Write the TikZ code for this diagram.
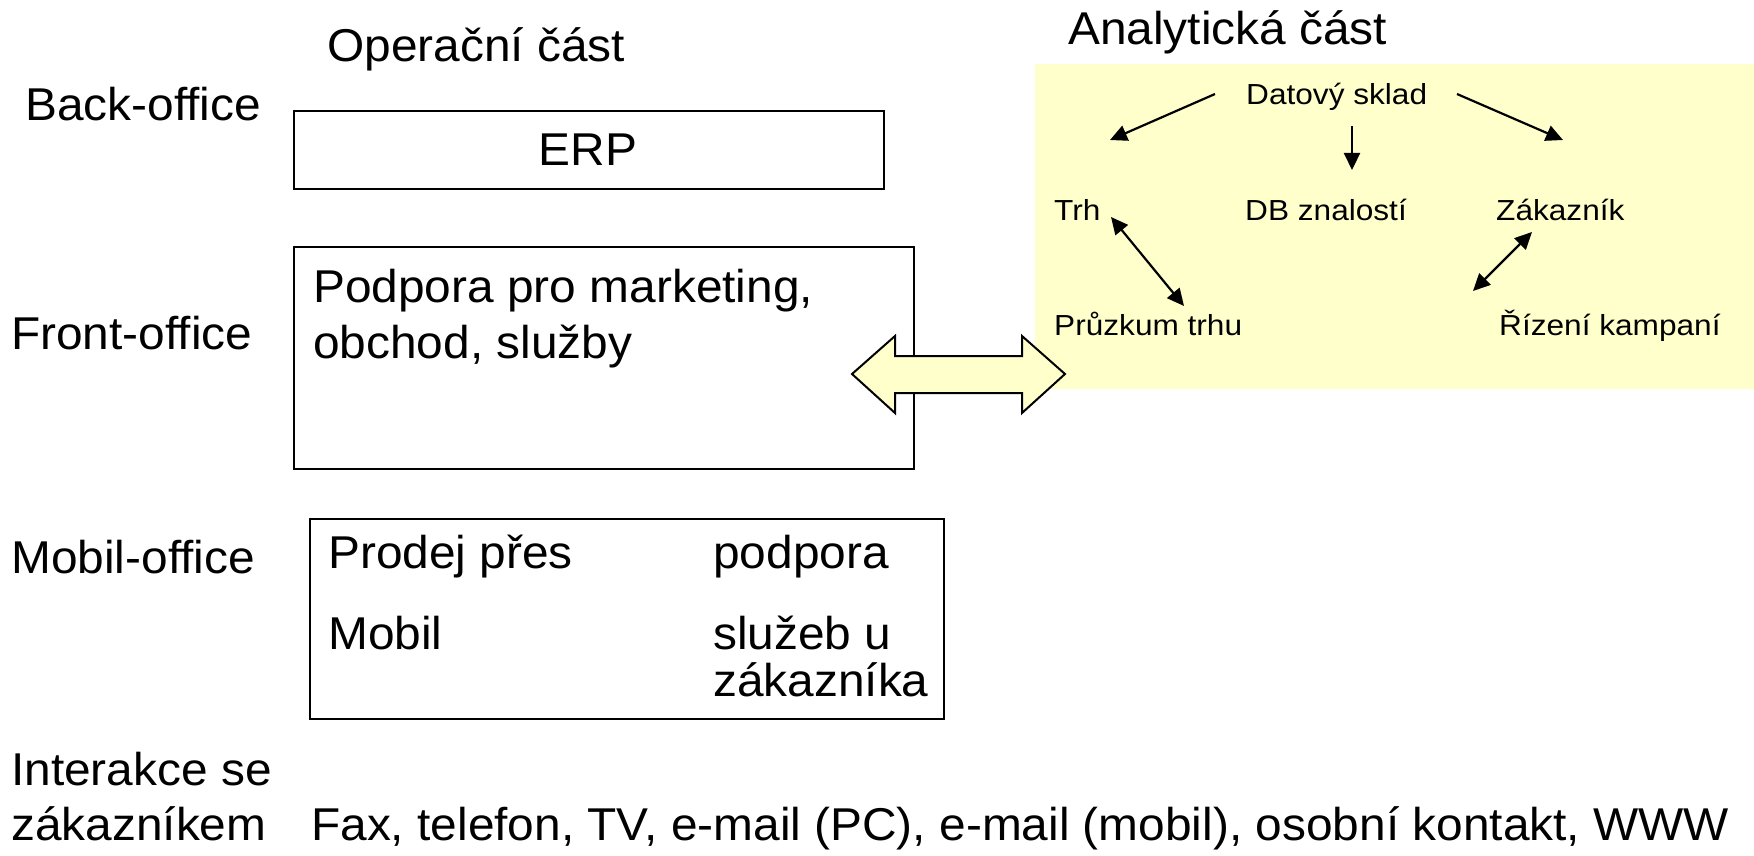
\documentclass[tikz,border=0pt]{standalone}
\usepackage{fontspec}
\setmainfont{Liberation Sans}
\newfontfamily\bigfam[FakeStretch=1.04]{Liberation Sans}
\newfontfamily\smallfam[FakeStretch=1.09]{Liberation Sans}
\usetikzlibrary{arrows.meta}
\definecolor{lyel}{HTML}{FFFFCC}
\begin{document}
\begin{tikzpicture}[x=1pt,y=-1pt,
 big/.style={font=\bigfam\fontsize{46}{55}\selectfont, inner sep=0pt, anchor=base west},
 small/.style={font=\smallfam\fontsize{29}{35}\selectfont, inner sep=0pt, anchor=base west},
 box/.style={draw=black, line width=2pt, anchor=north west, inner sep=0pt},
 sarr/.style={line width=2.2pt, -{Triangle[length=17pt,width=16pt]}},
 darr/.style={line width=2.2pt, {Triangle[length=17pt,width=16pt]}-{Triangle[length=17pt,width=16pt]}}]
\useasboundingbox (0,0) rectangle (1754,856);
% analytical background
\fill[lyel] (1035,64) rectangle (1754,389);
% headings
\node[big] (op) at (327,62) {Operační část};
\node[big] (an) at (1068,45) {Analytická část};
% row labels
\node[big] (bo) at (25,121) {Back-office};
\node[big] (fo) at (11,349) {Front-office};
\node[big] (mo) at (11,573) {Mobil-office};
\node[big] (ia) at (11,785) {Interakce se};
\node[big] (ib) at (11,840) {zákazníkem};
\node[big] (fax) at (311,840) {Fax, telefon, TV, e-mail (PC), e-mail (mobil), osobní kontakt, WWW};
% boxes
\node[box, minimum width=590pt, minimum height=78pt] (erp) at (293,110) {};
\node[big, anchor=base] (erpt) at (588,165) {ERP};
\node[box, minimum width=620pt, minimum height=222pt] (front) at (293,246) {};
\node[big] (p1) at (313,302) {Podpora pro marketing,};
\node[big] (p2) at (313,358) {obchod, služby};
\node[box, minimum width=634pt, minimum height=200pt] (mob) at (309,518) {};
\node[big] (m1) at (328,568) {Prodej přes};
\node[big] (m2) at (328,649) {Mobil};
\node[big] (m3) at (713,568) {podpora};
\node[big] (m4) at (713,649) {služeb u};
\node[big] (m5) at (713,696) {zákazníka};
% big double arrow
\draw[line width=2pt, fill=lyel, line join=miter] (852,374) -- (895,336) -- (895,356) -- (1022,356) -- (1022,336) -- (1065,374) -- (1022,413) -- (1022,393) -- (895,393) -- (895,413) -- cycle;
% analytical nodes
\node[small] (ds) at (1246,105) {Datový sklad};
\node[small] (trh) at (1054,220) {Trh};
\node[small] (db) at (1245,220) {DB znalostí};
\node[small] (zak) at (1496,220) {Zákazník};
\node[small] (pt) at (1054,335) {Průzkum trhu};
\node[small] (rk) at (1499,335) {Řízení kampaní};
% arrow end points
\coordinate (a1s) at (1215,94);
\coordinate (a1e) at (1110,140);
\coordinate (a2s) at (1352,126);
\coordinate (a2e) at (1352,170);
\coordinate (a3s) at (1457,94);
\coordinate (a3e) at (1563,140);
\coordinate (b1s) at (1111,217);
\coordinate (b1e) at (1184,306);
\coordinate (b2s) at (1532,232);
\coordinate (b2e) at (1473,291);
\draw[sarr] (a1s) -- (a1e);
\draw[sarr] (a2s) -- (a2e);
\draw[sarr] (a3s) -- (a3e);
\draw[darr] (b1s) -- (b1e);
\draw[darr] (b2s) -- (b2e);
\end{tikzpicture}
\end{document}
